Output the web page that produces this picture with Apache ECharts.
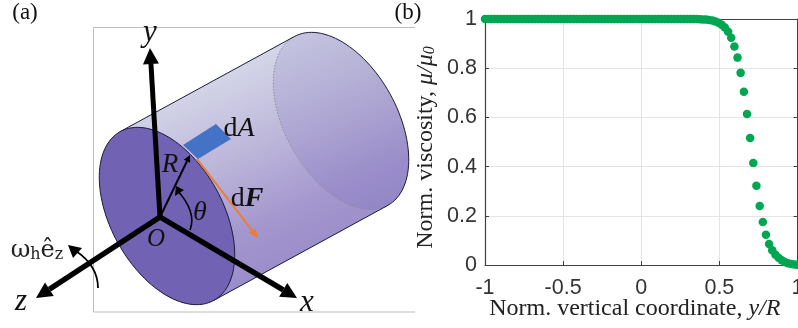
<!DOCTYPE html>
<html><head><meta charset="utf-8">
<style>html,body{margin:0;padding:0;background:#fff}#c{width:798px;height:328px}</style>
<script src="https://cdn.jsdelivr.net/npm/echarts@6/dist/echarts.min.js"></script>
</head><body><div id="c"></div>
<script>
const yCoord = [-1,-0.98,-0.96,-0.939,-0.919,-0.899,-0.879,-0.859,-0.838,-0.818,-0.798,-0.778,-0.758,-0.737,-0.717,-0.697,-0.677,-0.657,-0.636,-0.616,-0.596,-0.576,-0.556,-0.535,-0.515,-0.495,-0.475,-0.455,-0.434,-0.414,-0.394,-0.374,-0.354,-0.333,-0.313,-0.293,-0.273,-0.253,-0.232,-0.212,-0.192,-0.172,-0.152,-0.131,-0.111,-0.091,-0.071,-0.051,-0.03,-0.01,0.01,0.03,0.051,0.071,0.091,0.111,0.131,0.152,0.172,0.192,0.212,0.232,0.253,0.273,0.293,0.313,0.333,0.354,0.374,0.394,0.414,0.434,0.455,0.475,0.495,0.515,0.535,0.556,0.576,0.596,0.616,0.636,0.657,0.677,0.697,0.717,0.737,0.758,0.778,0.798,0.818,0.838,0.859,0.879,0.899,0.919,0.939,0.96,0.98,1];
const viscosity = [1,1,1,1,1,1,1,1,1,1,1,1,1,1,1,1,1,1,1,1,1,1,1,1,1,1,1,1,1,1,1,1,1,1,1,1,1,1,1,1,1,1,1,1,1,1,1,1,1,1,1,1,1,1,1,1,1,1,1,1,1,1,1,1,1,1,1,1,0.999,0.998,0.9975,0.996,0.994,0.99,0.985,0.977,0.965,0.948,0.924,0.888,0.843,0.781,0.704,0.614,0.516,0.415,0.322,0.24,0.175,0.123,0.085,0.06,0.042,0.029,0.019,0.012,0.007,0.004,0.002,0.001];
const xTicks = [-1,-0.5,0,0.5,1];

const SER = 'Liberation Serif';
const f = v => +v.toFixed(2);
function ell(cx,cy,a,b,phiDeg,t0,t1,n){
  const p=phiDeg*Math.PI/180, out=[];
  for(let i=0;i<=n;i++){
    const t=(t0+(t1-t0)*i/n)*Math.PI/180;
    const u=a*Math.cos(t), v=b*Math.sin(t);
    out.push([f(cx+u*Math.cos(p)-v*Math.sin(p)), f(cy+u*Math.sin(p)+v*Math.cos(p))]);
  }
  return out;
}
function arrow(from,tip,w,headLen,headW,color,z){
  const dx=tip[0]-from[0],dy=tip[1]-from[1],L=Math.hypot(dx,dy),ux=dx/L,uy=dy/L;
  const bx=tip[0]-ux*headLen,by=tip[1]-uy*headLen,nx=-uy,ny=ux;
  return [
    {type:'line',z,shape:{x1:from[0],y1:from[1],x2:bx,y2:by},style:{stroke:color,lineWidth:w}},
    {type:'polygon',z,shape:{points:[tip,[bx+nx*headW,by+ny*headW],[bx-nx*headW,by-ny*headW]]},style:{fill:color}}
  ];
}
const front=[167,216], back=[341,121], A=96.5, B=56, PHI=61;
const bodyPts = ell(front[0],front[1],A,B,PHI,0,180,60)
  .concat(ell(back[0],back[1],A,B,PHI,180,360,60));
const bodyFill = {type:'linear',global:true,x:222,y:72,x2:302,y2:258,colorStops:[
  {offset:0,color:'#d4d6e8'},{offset:0.4,color:'#bdb7da'},{offset:0.75,color:'#a598cf'},{offset:1,color:'#9a8dca'}]};
const O=[160,217];
const txt=(x,y,text,style)=>({type:'text',z:20,x,y,style:Object.assign({text,fill:'#111',fontFamily:SER,align:'center',verticalAlign:'middle'},style)});
const graphics = [
  {type:'polyline',z:1,shape:{points:[[415,27.5],[93.5,27.5],[93.5,312],[415,312]]},style:{stroke:'#bdbdbd',lineWidth:1,fill:null}},
  {type:'polygon',z:2,shape:{points:bodyPts},style:{fill:bodyFill,stroke:null}},
  {type:'polygon',z:3,shape:{points:ell(back[0],back[1],A,B,PHI,0,360,120)},style:{fill:'rgba(95,75,170,0.14)',stroke:null}},
  {type:'polyline',z:4,shape:{points:ell(back[0],back[1],A,B,PHI,0,180,60)},style:{stroke:'#8e8e9e',lineWidth:1,lineDash:[1.5,1.5],fill:null}},
  {type:'polyline',z:5,shape:{points:ell(back[0],back[1],A,B,PHI,180,360,60)},style:{stroke:'#1b1b3a',lineWidth:1,fill:null}},
  {type:'polyline',z:5,shape:{points:[ell(front[0],front[1],A,B,PHI,180,180,1)[0],ell(back[0],back[1],A,B,PHI,180,180,1)[0]]},style:{stroke:'#1b1b3a',lineWidth:1,fill:null}},
  {type:'polyline',z:5,shape:{points:[ell(front[0],front[1],A,B,PHI,0,0,1)[0],ell(back[0],back[1],A,B,PHI,0,0,1)[0]]},style:{stroke:'#1b1b3a',lineWidth:1,fill:null}},
  {type:'polygon',z:6,shape:{points:ell(front[0],front[1],A,B,PHI,0,360,120)},style:{fill:'#7162b3',stroke:'#1b1b3a',lineWidth:1}},
  {type:'polygon',z:7,shape:{points:[[183,145],[216,124],[231,139],[198,159]]},style:{fill:'#4472c4'}},
  ...arrow([197,159],[258,238],2,9,4,'#ed7d31',8),
  ...arrow(O,[190,155],2,7,3.5,'#000',10),
  {type:'bezierCurve',z:10,shape:{x1:190,y1:230,cpx1:197,cpy1:212,x2:177,y2:190},style:{stroke:'#000',lineWidth:1.6,fill:null}},
  {type:'polygon',z:10,shape:{points:[[176,186],[184,190],[175,196]]},style:{fill:'#000'}},
  ...arrow(O,[150,48],5,16,8,'#000',11),
  ...arrow(O,[297,298],5.5,16,8,'#000',11),
  ...arrow(O,[36,298],5.5,16,8,'#000',11),
  {type:'bezierCurve',z:10,shape:{x1:98,y1:288,cpx1:98,cpy1:266,x2:76,y2:251},style:{stroke:'#000',lineWidth:1.8,fill:null}},
  {type:'polygon',z:10,shape:{points:[[68,245],[82,248],[73,258]]},style:{fill:'#000'}},
  txt(25,13,'(a)',{fontSize:23}),
  txt(408,13,'(b)',{fontSize:23}),
  txt(150,33,'y',{fontSize:31,fontStyle:'italic'}),
  txt(307,303,'x',{fontSize:31,fontStyle:'italic'}),
  txt(21,302,'z',{fontSize:31,fontStyle:'italic'}),
  txt(170,165,'R',{fontSize:27,fontStyle:'italic'}),
  txt(200,213,'θ',{fontSize:28,fontStyle:'italic'}),
  txt(156,239,'O',{fontSize:25,fontStyle:'italic'}),
  txt(239,129,'{a|d}{b|A}',{rich:{a:{fontSize:28,fontFamily:SER,fill:'#111'},b:{fontSize:28,fontFamily:SER,fontStyle:'italic',fill:'#111'}}}),
  txt(247,199,'{a|d}{b|F}',{rich:{a:{fontSize:28,fontFamily:SER,fill:'#111'},b:{fontSize:28,fontFamily:SER,fontStyle:'italic',fontWeight:'bold',fill:'#111'}}}),
  txt(37,251,'{w|ω}{s|h}{w|ê}{s|z}',{rich:{w:{fontSize:24,fontFamily:'DejaVu Serif',fill:'#222'},s:{fontSize:16,fontFamily:'DejaVu Serif',fill:'#222',verticalAlign:'bottom',padding:[6,0,0,0]}}})
];
const AX='#404040', GRID='#e4e4e4';
const chart = echarts.init(document.getElementById('c'),null,{renderer:'canvas'});
chart.setOption({
  animation:false,
  backgroundColor:'#fff',
  grid:{left:485,top:19,right:0.5,bottom:63,containLabel:false,outerBoundsMode:'none'},
  graphic:{elements:graphics},
  xAxis:[{
    type:'value',position:'bottom',min:-1,max:1,interval:0.5,
    axisLine:{show:true,onZero:false,lineStyle:{color:AX,width:1.2}},
    axisTick:{show:true,inside:true,length:4,lineStyle:{color:AX}},
    splitLine:{show:true,lineStyle:{color:GRID,width:1}},
    axisLabel:{margin:12,fontFamily:'Liberation Sans',fontSize:21.5,color:'#333',customValues:xTicks,showMinLabel:true,showMaxLabel:true},
    name:'{a|Norm. vertical coordinate, }{b|y/R}',nameLocation:'middle',nameGap:32,nameMoveOverlap:false,
    nameTextStyle:{padding:[0,13,0,0],rich:{a:{fontFamily:SER,fontSize:24,color:'#222'},b:{fontFamily:SER,fontSize:24,fontStyle:'italic',color:'#222'}}}
  },{
    type:'value',position:'top',min:-1,max:1,interval:0.5,
    axisLine:{show:true,onZero:false,lineStyle:{color:AX,width:1}},
    axisTick:{show:true,inside:true,length:4,lineStyle:{color:AX}},
    splitLine:{show:false},axisLabel:{show:false}
  }],
  yAxis:[{
    type:'value',position:'left',min:0,max:1,interval:0.2,
    axisLine:{show:true,onZero:false,lineStyle:{color:AX,width:1.2}},
    axisTick:{show:true,inside:true,length:4,lineStyle:{color:AX}},
    splitLine:{show:true,lineStyle:{color:GRID,width:1}},
    axisLabel:{margin:8,fontFamily:'Liberation Sans',fontSize:21.5,color:'#333'},
    name:'{a|Norm. viscosity, }{b|μ/μ}{c|0}',nameLocation:'middle',nameGap:47,nameMoveOverlap:false,
    nameTextStyle:{padding:[0,11,0,0],rich:{a:{fontFamily:SER,fontSize:24,color:'#222'},b:{fontFamily:SER,fontSize:24,fontStyle:'italic',color:'#222'},c:{fontFamily:SER,fontSize:16,fontStyle:'italic',color:'#222',verticalAlign:'bottom',padding:[8,0,0,0]}}}
  },{
    type:'value',position:'right',min:0,max:1,interval:0.2,
    axisLine:{show:true,onZero:false,lineStyle:{color:AX,width:1}},
    axisTick:{show:true,inside:true,length:4,lineStyle:{color:AX}},
    splitLine:{show:false},axisLabel:{show:false}
  }],
  series:[{
    type:'scatter',xAxisIndex:0,yAxisIndex:0,clip:false,silent:true,z:5,
    symbol:'circle',symbolSize:8.5,itemStyle:{color:'#00a651',opacity:1},
    data:yCoord.map((x,i)=>[x,viscosity[i]])
  }]
});
</script></body></html>
